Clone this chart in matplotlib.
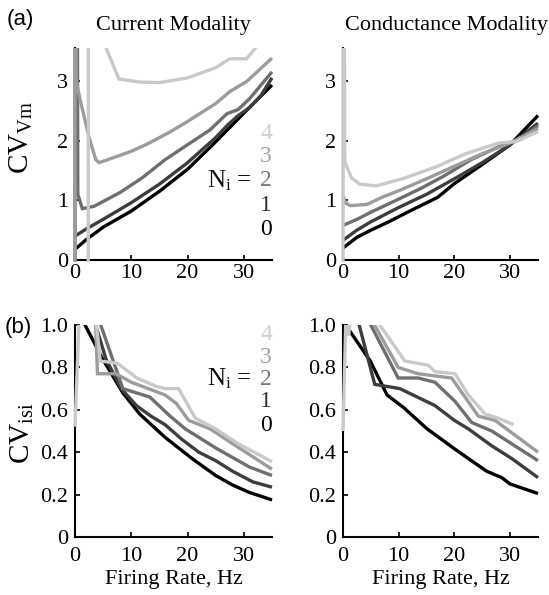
import matplotlib
matplotlib.use("Agg")
import matplotlib.pyplot as plt
from matplotlib.patches import Rectangle

plt.rcParams["font.family"] = ["Liberation Serif", "DejaVu Serif"]
plt.rcParams["mathtext.fontset"] = "custom"
plt.rcParams["mathtext.rm"] = "Liberation Serif"
plt.rcParams["mathtext.it"] = "Liberation Serif:italic"

# line shades for N_i = 0..4
SHADES = ["#000000", "#3d3d3d", "#6f6f6f", "#9c9c9c", "#c9c9c9"]
LABEL_SHADES = ["#000000", "#333333", "#777777", "#a3a3a3", "#cfcfcf"]
NI_LABELS = ["0", "1", "2", "3", "4"]

# ---- (a) CV of membrane potential, current modality ----
cur_vm_x = [
    [0, 2, 5, 10, 15, 20, 25, 30, 35],
    [0, 2, 5, 10, 15, 20, 25, 27, 29, 31, 33, 35],
    [0, 0.05, 0.5, 1.3, 3.4, 8, 12, 16, 20, 24, 27, 29, 31, 35],
    [0, 0.03, 0.2, 1.0, 2.5, 3.7, 4.3, 7, 10, 13, 17, 20, 25, 27.5, 30.5, 35],
    [2.35, 2.45, 5.3, 7.8, 11.5, 15, 20, 25, 27.5, 30.5, 32.5],
]
cur_vm_y = [
    [0.18, 0.34, 0.55, 0.82, 1.15, 1.52, 1.98, 2.46, 2.93],
    [0.40, 0.52, 0.68, 0.96, 1.27, 1.63, 2.05, 2.25, 2.42, 2.55, 2.75, 3.05],
    [-0.1, 20, 1.1, 0.86, 0.90, 1.13, 1.38, 1.68, 1.93, 2.18, 2.45, 2.52, 2.70, 3.15],
    [-0.1, 20, 3.0, 2.65, 2.05, 1.68, 1.63, 1.72, 1.82, 1.95, 2.15, 2.32, 2.62, 2.82, 2.99, 3.38],
    [-0.1, 20, 3.6, 3.03, 2.98, 2.97, 3.05, 3.22, 3.37, 3.37, 3.6],
]

# ---- (a) CV of membrane potential, conductance modality ----
con_vm_x = [
    [0, 2.5, 5, 8, 12, 17, 20, 25, 30, 35],
    [0, 2.5, 5, 10, 15, 20, 25, 30, 35],
    [0, 2.5, 5, 10, 14, 18, 23, 28, 32, 35],
    [0, 0.5, 1.3, 4.3, 7, 10, 15, 20, 25, 30, 35],
    [0, 0.03, 0.3, 1.5, 3, 6, 11, 17, 22, 28, 31, 35],
]
con_vm_y = [
    [0.20, 0.38, 0.50, 0.63, 0.82, 1.05, 1.28, 1.60, 1.93, 2.42],
    [0.33, 0.50, 0.64, 0.88, 1.10, 1.36, 1.63, 1.93, 2.29],
    [0.58, 0.68, 0.80, 1.02, 1.20, 1.40, 1.68, 1.90, 2.03, 2.25],
    [1.08, 0.95, 0.91, 0.93, 1.05, 1.16, 1.36, 1.57, 1.78, 1.96, 2.20],
    [-0.1, 20, 1.65, 1.38, 1.27, 1.24, 1.37, 1.57, 1.78, 1.96, 1.98, 2.15],
]

# ---- (b) CV of interspike intervals, current modality ----
cur_isi_x = [
    [1.2, 4.9, 8.5, 11.5, 16, 20.8, 25, 28, 31, 35],
    [2.5, 5.5, 8.2, 10.9, 13.5, 16, 19, 22, 25, 28, 31.6, 35],
    [3.0, 8.5, 13.3, 16.9, 19.6, 25, 31, 35],
    [3.5, 4.0, 7.3, 10, 13, 16, 18, 20.2, 24, 28, 35],
    [0, 0.9, 3.0, 4.5, 7.5, 11, 14.5, 16, 18.4, 21.4, 25, 29, 35],
]
cur_isi_y = [
    [1.03, 0.84, 0.68, 0.58, 0.47, 0.37, 0.29, 0.245, 0.21, 0.175],
    [1.10, 0.84, 0.70, 0.62, 0.57, 0.53, 0.46, 0.40, 0.36, 0.31, 0.26, 0.235],
    [1.12, 0.70, 0.66, 0.57, 0.51, 0.42, 0.33, 0.29],
    [1.10, 0.77, 0.77, 0.73, 0.70, 0.67, 0.63, 0.55, 0.51, 0.44, 0.32],
    [0.52, 1.15, 1.20, 0.83, 0.82, 0.75, 0.71, 0.70, 0.70, 0.56, 0.51, 0.44, 0.355],
]

# ---- (b) CV of interspike intervals, conductance modality ----
con_isi_x = [
    [1.0, 4.9, 7.9, 10.9, 15.1, 19.8, 22.5, 25.8, 28.5, 30, 35],
    [2.4, 5.7, 10.2, 16.5, 20, 22.5, 26.7, 30.3, 35],
    [4.0, 9.9, 13.5, 16.5, 20.1, 23.1, 26.7, 35],
    [4.6, 9.9, 13.5, 16.5, 19.5, 21.9, 24.3, 27.3, 35],
    [0, 0.5, 1.0, 1.6, 3.5, 6.6, 11.1, 15.3, 16.5, 20.1, 22.5, 25.5, 27.9, 30.6],
]
con_isi_y = [
    [0.98, 0.83, 0.67, 0.61, 0.51, 0.42, 0.37, 0.31, 0.28, 0.25, 0.205],
    [1.05, 0.72, 0.70, 0.62, 0.55, 0.51, 0.43, 0.37, 0.28],
    [1.05, 0.75, 0.75, 0.73, 0.64, 0.54, 0.50, 0.36],
    [1.05, 0.80, 0.77, 0.76, 0.75, 0.66, 0.57, 0.55, 0.40],
    [0.50, 1.02, 0.95, 1.08, 1.30, 1.00, 0.83, 0.81, 0.78, 0.77, 0.67, 0.58, 0.56, 0.53],
]

vm_ticks = [0, 1, 2, 3]
isi_ticks = [0, 0.2, 0.4, 0.6, 0.8, 1.0]
isi_ticklabels = ["0", "0.2", "0.4", "0.6", "0.8", "1.0"]
x_ticks = [0, 10, 20, 30]

W, H = 549, 595
fig = plt.figure(figsize=(W / 100, H / 100), dpi=100)


def px_rect(x0, y0, x1, y1):
    return [x0 / W, 1 - y1 / H, (x1 - x0) / W, (y1 - y0) / H]


ax_a1 = fig.add_axes(px_rect(75, 48, 272, 260))
ax_a2 = fig.add_axes(px_rect(343, 48, 538, 260))
ax_b1 = fig.add_axes(px_rect(75, 325, 272, 537))
ax_b2 = fig.add_axes(px_rect(343, 325, 538, 537))

FS = 16


def draw(ax, xs, ys, ylim, yticks, yticklabels=None, xpad=3):
    # clip box reaches a little past the y axis so lines sit over the spine
    clip = Rectangle((-0.012, -0.01), 1.015, 1.01, transform=ax.transAxes,
                     facecolor="none", edgecolor="none")
    ax.add_patch(clip)
    for i, (x, y) in enumerate(zip(xs, ys)):
        ln, = ax.plot(x, y, color=SHADES[i], lw=2.4, zorder=3 + i,
                      solid_joinstyle="miter", solid_capstyle="butt")
        ln.set_clip_path(clip)
    ax.set_xlim(0, 35)
    ax.set_ylim(*ylim)
    ax.set_xticks(x_ticks)
    ax.set_yticks(yticks)
    if yticklabels is not None:
        ax.set_yticklabels(yticklabels)
    for s in ("top", "right"):
        ax.spines[s].set_visible(False)
    for s in ("left", "bottom"):
        ax.spines[s].set_linewidth(1.5)
    ax.tick_params(direction="in", length=3.5, width=1.2, labelsize=FS)
    ax.tick_params(axis="y", pad=5)
    ax.tick_params(axis="x", pad=xpad)


draw(ax_a1, cur_vm_x, cur_vm_y, (0, 3.55), vm_ticks)
draw(ax_a2, con_vm_x, con_vm_y, (0, 3.55), vm_ticks)
draw(ax_b1, cur_isi_x, cur_isi_y, (0, 1.0), isi_ticks, isi_ticklabels, xpad=7)
draw(ax_b2, con_isi_x, con_isi_y, (0, 1.0), isi_ticks, isi_ticklabels, xpad=7)

ax_a1.text(0.5, 1.085, "Current Modality", transform=ax_a1.transAxes,
           ha="center", va="baseline", fontsize=FS)
ax_a2.text(0.53, 1.085, "Conductance Modality", transform=ax_a2.transAxes,
           ha="center", va="baseline", fontsize=FS)

ax_a1.text(-0.27, 0.58, r"CV$_{\mathrm{Vm}}$", transform=ax_a1.transAxes,
           rotation=90, ha="center", va="center", fontsize=21)
ax_b1.text(-0.265, 0.49, r"CV$_{\mathrm{isi}}$", transform=ax_b1.transAxes,
           rotation=90, ha="center", va="center", fontsize=21)

for ax in (ax_b1, ax_b2):
    ax.set_xlabel("Firing Rate, Hz", fontsize=FS, labelpad=3)

fig.text(20 / W, 1 - 19 / H, "(a)", family=["Liberation Sans", "DejaVu Sans"],
         fontsize=16, ha="center", va="center")
fig.text(18 / W, 1 - 327 / H, "(b)", family=["Liberation Sans", "DejaVu Sans"],
         fontsize=16, ha="center", va="center")

# stacked N_i key, 0 at the bottom up to 4 on top
for ax, ys in ((ax_a1, [0.142, 0.255, 0.373, 0.486, 0.599]),
               (ax_b1, [0.528, 0.637, 0.745, 0.849, 0.953])):
    for i, yy in enumerate(ys):
        ax.text(1.0, yy, NI_LABELS[i], transform=ax.transAxes, ha="right",
                va="center", fontsize=17, color=LABEL_SHADES[i])
    ax.text(0.9, ys[2], r"N$_{\mathrm{i}}$ =", transform=ax.transAxes,
            ha="right", va="center", fontsize=18, color="#111111")

fig.savefig("out.png", dpi=100)
